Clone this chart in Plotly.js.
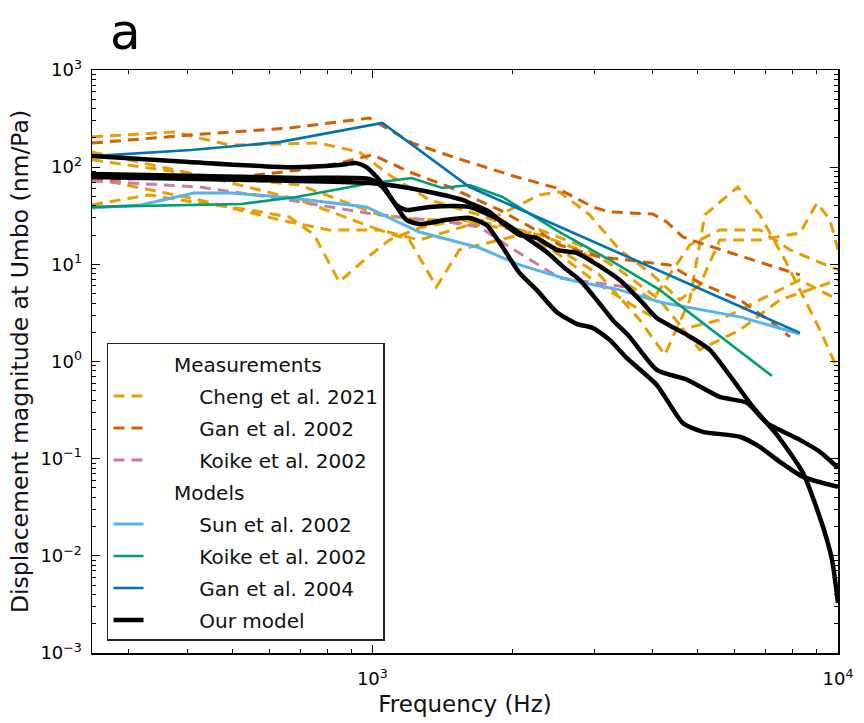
<!DOCTYPE html>
<html>
<head>
<meta charset="utf-8">
<script src="https://cdn.plot.ly/plotly-3.0.1.min.js"></script>
<style>
  html, body { margin: 0; padding: 0; background: #ffffff; }
  #chart { width: 864px; height: 723px; }
</style>
</head>
<body>
<div id="chart"></div>
<script>
// Umbo displacement magnitude (nm/Pa) versus stimulus frequency (Hz)

// Measurements: Cheng et al. 2021 (several specimens)
const chengF1 = [250, 375, 493, 769, 938, 1088, 1326, 1698, 2070, 2524, 3077, 3751, 4246, 4806, 5176, 6095, 6795, 7691, 8283, 9146, 10000];
const chengY1 = [205, 230, 169, 177, 143, 83, 46, 32.3, 22.6, 14.1, 7.78, 2.68, 1.17, 4.31, 32.3, 62.5, 32.3, 11.1, 5.46, 2.11, 0.82];
const chengF2 = [250, 425, 697, 1035, 1262, 1538, 1875, 2286, 2524, 2929, 3397, 3999, 4572, 5048, 5574, 6795, 8283, 9013, 9612, 10000];
const chengY2 = [143, 83, 46, 22.6, 17.8, 23.7, 32.3, 51.8, 55.6, 32.3, 14.1, 7.78, 4.31, 6.14, 17.8, 17.8, 21.0, 42.8, 28.7, 14.1];
const chengF3 = [250, 331, 425, 544, 663, 750, 849, 961, 1088, 1262, 1464, 1698, 2070, 2524, 3077, 3751, 4572, 5574, 6795, 8283, 10000];
const chengY3 = [40.9, 51.8, 42.8, 36.3, 30.7, 20.1, 6.59, 11.1, 17.8, 23.7, 27.3, 25.4, 22.6, 12.5, 6.14, 3.40, 2.11, 2.68, 4.31, 6.91, 4.31];
const chengF4 = [250, 425, 631, 808, 1035, 1201, 1373, 1538, 1875, 2286, 2787, 3397, 4141, 5048, 6154, 7502, 10000];
const chengY4 = [77.4, 46, 28.7, 22.6, 22.6, 17.8, 5.86, 14.1, 17.8, 22.6, 15.8, 8.75, 4.31, 1.32, 2.11, 4.31, 6.91];
const chengF5 = [250, 425, 697, 849, 1035, 1262, 1538, 1875, 2286, 2787, 3397, 3999, 4806, 5574, 6795, 7885, 10000];
const chengY5 = [119, 83, 65.6, 46, 32.3, 28.7, 28.7, 25.4, 20.1, 14.1, 6.91, 4.31, 15.8, 22.6, 22.6, 14.1, 8.75];

// Measurements: Gan et al. 2002 (two ears)
const gan02F1 = [250, 404, 663, 985, 1219, 1516, 2040, 2487, 2972, 3233, 3999, 4288, 4643, 5048, 6070, 7398, 8283];
const gan02Y1 = [177, 214, 253, 320, 177, 124, 79.3, 61.1, 39.0, 34.6, 33.0, 27.3, 19.1, 16.6, 12.5, 9.18, 7.78];
const gan02F2 = [250, 544, 697, 849, 1000, 1201, 1464, 1875, 2286, 2524, 3077, 3881, 4352, 5048, 6154, 7244, 7885];
const gan02Y2 = [73.8, 81.2, 93.6, 110, 134, 89.3, 62.5, 36.3, 21.5, 15.8, 11.9, 10.6, 9.86, 6.44, 4.31, 2.49, 1.79];

// Measurements: Koike et al. 2002
const koikeMeasF = [250, 425, 663, 1000, 1442, 1698, 1970, 2524, 3623];
const koikeMeasY = [72.1, 62.5, 46.0, 33.0, 27.3, 24.3, 15.1, 7.24, 5.72];

// Models from the literature
const sunF = [250, 318, 414, 497, 670, 971, 1262, 1698, 2070, 2653, 3397, 4141, 6154, 8283];
const sunY = [38, 40.9, 54.3, 54.3, 48.2, 39.0, 21.5, 14.8, 9.86, 6.91, 5.46, 4.10, 2.88, 1.92];
const koikeModelF = [250, 523, 687, 971, 1213, 1414, 1617, 1903, 2524, 3233, 4141, 7211];
const koikeModelY = [39, 41.8, 49.3, 67.2, 77.4, 61.1, 65.6, 49.3, 21.5, 11.1, 5.46, 0.711];
const gan04F = [250, 408, 631, 1051, 1617, 8283];
const gan04Y = [130, 150, 181, 285, 62.5, 1.97];

// Our model (three configurations)
const oursF1 = [250, 404, 663, 849, 924, 971, 1035, 1104, 1183, 1262, 1442, 1617, 1758, 1903, 2070, 2253, 2487, 2746, 2972, 3233, 3516, 4082, 4643, 5126, 6154, 6795, 7502, 8408, 10000];
const oursY1 = [130, 113, 100, 105, 110, 100, 73.8, 46.0, 28.7, 26.0, 28.7, 30.0, 25.4, 15.1, 8.17, 5.46, 3.24, 2.44, 2.22, 1.67, 1.09, 0.574, 0.233, 0.189, 0.168, 0.132, 0.0927, 0.065, 0.0513];
const oursF2 = [250, 425, 697, 985, 1051, 1126, 1183, 1326, 1516, 1617, 1875, 2070, 2367, 2587, 2787, 3032, 3281, 3570, 4082, 4735, 5574, 6373, 7037, 8283, 9146, 10000];
const oursY2 = [85.1, 81.2, 77.4, 75.6, 62.5, 40.9, 36.3, 39.0, 39.9, 39.0, 28.7, 21.0, 13.4, 9.18, 6.91, 4.31, 2.68, 1.79, 0.82, 0.65, 0.432, 0.375, 0.233, 0.156, 0.1175, 0.0804];
const oursF3 = [250, 425, 697, 985, 1126, 1326, 1562, 1617, 1785, 1903, 2070, 2253, 2487, 2746, 2972, 3397, 3806, 4082, 4735, 5305, 5945, 6564, 7393, 8408, 9284, 9707, 10000];
const oursY3 = [79.3, 75.6, 72.1, 68.8, 64.0, 55.6, 46.0, 42.8, 34.6, 26.7, 20.1, 18.7, 14.1, 13.1, 10.6, 6.91, 4.01, 2.81, 1.88, 1.32, 0.65, 0.341, 0.176, 0.0715, 0.0199, 0.0091, 0.00328];

// Decade ticks, labelled as powers of ten
const xDecades = [3, 4];
const yDecades = [-3, -2, -1, 0, 1, 2, 3];

const legendLabels = {
  measurements: 'Measurements',
  cheng: 'Cheng et al. 2021',
  gan02: 'Gan et al. 2002',
  koikeMeas: 'Koike et al. 2002',
  models: 'Models',
  sun: 'Sun et al. 2002',
  koikeModel: 'Koike et al. 2002',
  gan04: 'Gan et al. 2004',
  ours: 'Our model'
};

const COLORS = {
  cheng: '#E69F00',
  gan02: '#D55E00',
  koikeMeas: '#CC79A7',
  sun: '#56B4E9',
  koikeModel: '#009E73',
  gan04: '#0072B2',
  ours: '#000000'
};

const NB = '\u00a0';
const headerPad = NB.repeat(4);
const itemPad = NB.repeat(8);
const DASH = '11px,7px';

function header(text, group) {
  return {
    x: [null], y: [null], type: 'scatter', mode: 'lines',
    name: headerPad + text, legendgroup: group, showlegend: true,
    line: { color: 'rgba(0,0,0,0)', width: 0 }, hoverinfo: 'skip'
  };
}

function series(xs, ys, opts) {
  return {
    x: xs, y: ys, type: 'scatter', mode: 'lines',
    name: itemPad + opts.label, legendgroup: opts.group, showlegend: opts.show,
    line: { color: opts.color, width: opts.width, dash: opts.dash || 'solid', shape: opts.shape || 'linear', smoothing: 0.6 },
    hoverinfo: 'skip'
  };
}

const traces = [];
traces.push(header(legendLabels.measurements, 'h1'));
[[chengF1, chengY1], [chengF2, chengY2], [chengF3, chengY3], [chengF4, chengY4], [chengF5, chengY5]].forEach((s, i) => {
  traces.push(series(s[0], s[1], { label: legendLabels.cheng, group: 'cheng', show: i === 0, color: COLORS.cheng, width: 3, dash: DASH }));
});
[[gan02F1, gan02Y1], [gan02F2, gan02Y2]].forEach((s, i) => {
  traces.push(series(s[0], s[1], { label: legendLabels.gan02, group: 'gan02', show: i === 0, color: COLORS.gan02, width: 3, dash: DASH }));
});
traces.push(series(koikeMeasF, koikeMeasY, { label: legendLabels.koikeMeas, group: 'koikeMeas', show: true, color: COLORS.koikeMeas, width: 3, dash: DASH }));
traces.push(header(legendLabels.models, 'h2'));
traces.push(series(sunF, sunY, { label: legendLabels.sun, group: 'sun', show: true, color: COLORS.sun, width: 3 }));
traces.push(series(koikeModelF, koikeModelY, { label: legendLabels.koikeModel, group: 'koikeModel', show: true, color: COLORS.koikeModel, width: 2.6 }));
traces.push(series(gan04F, gan04Y, { label: legendLabels.gan04, group: 'gan04', show: true, color: COLORS.gan04, width: 2.6 }));
[[oursF1, oursY1], [oursF2, oursY2], [oursF3, oursY3]].forEach((s, i) => {
  traces.push(series(s[0], s[1], { label: legendLabels.ours, group: 'ours', show: i === 0, color: COLORS.ours, width: 4.5, shape: 'spline' }));
});

const FONT = 'DejaVu Sans, Verdana, sans-serif';

function powerLabel(k) {
  return '10<sup>' + (k < 0 ? '\u2212' + (-k) : String(k)) + '</sup>';
}
function minorValues(decades) {
  const out = [];
  for (let k = decades[0] - 1; k <= decades[decades.length - 1]; k++) {
    for (let m = 2; m <= 9; m++) out.push(m * Math.pow(10, k));
  }
  return out;
}

function axisBase(decades) {
  return {
    type: 'log',
    tickmode: 'array',
    tickvals: decades.map(k => Math.pow(10, k)),
    ticktext: decades.map(powerLabel),
    showgrid: false,
    zeroline: false,
    showline: true,
    linecolor: '#000',
    linewidth: 1.5,
    mirror: 'allticks',
    ticks: 'inside',
    ticklen: 8,
    tickwidth: 1,
    tickcolor: '#000',
    tickfont: { family: FONT, size: 18, color: '#000' },
    minor: { tickmode: 'array', tickvals: minorValues(decades), ticks: 'inside', ticklen: 4, tickwidth: 1, tickcolor: '#000', showgrid: false }
  };
}

const layout = {
  width: 864,
  height: 723,
  margin: { l: 92, r: 26, t: 70, b: 70 },
  paper_bgcolor: '#fff',
  plot_bgcolor: '#fff',
  font: { family: FONT, color: '#000' },
  showlegend: true,
  xaxis: Object.assign(axisBase(xDecades), {
    range: [Math.log10(250), 4],
    ticklabelstandoff: 9,
    title: { text: 'Frequency (Hz)', font: { family: FONT, size: 23, color: '#111' }, standoff: 8 }
  }),
  yaxis: Object.assign(axisBase(yDecades), {
    range: [-3, 3],
    ticklabelstandoff: 5,
    title: { text: 'Displacement magnitude at Umbo (nm/Pa)', font: { family: FONT, size: 23.5, color: '#111' }, standoff: 5 }
  }),
  legend: {
    x: 0.0201, y: 0.0206, xanchor: 'left', yanchor: 'bottom',
    bgcolor: '#fff', bordercolor: '#222', borderwidth: 1.5,
    font: { family: FONT, size: 20, color: '#111' },
    traceorder: 'grouped', tracegroupgap: 3,
    itemclick: false, itemdoubleclick: false
  },
  annotations: [{
    // panel letter, kept fully inside the top edge of the figure
    text: 'a', xref: 'paper', yref: 'paper', x: 0.022, y: 1.118,
    xanchor: 'left', yanchor: 'top', showarrow: false,
    font: { family: FONT, size: 50, color: '#000' }
  }]
};

Plotly.newPlot('chart', traces, layout, { staticPlot: true, displayModeBar: false });
</script>
</body>
</html>
